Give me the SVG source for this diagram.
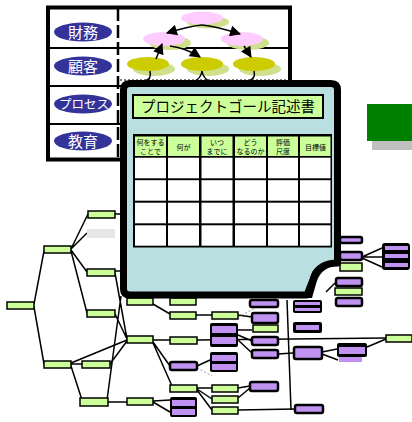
<svg xmlns="http://www.w3.org/2000/svg" width="412" height="422" viewBox="0 0 412 422">
  <style>
    .ln{stroke:#000;stroke-width:1.5;fill:none}
    .gb{fill:#ccff99;stroke:#000;stroke-width:1.5}
    .pb{fill:#c093f2;stroke:#000;stroke-width:2.5}
    .pk{fill:#000}
    .pp{fill:#c093f2}
    .fb{fill:#e6e6e6}
    .ov{fill:#333399}
    .ovt{font-family:"Noto Sans CJK JP","Noto Sans",sans-serif;fill:#fff;text-anchor:middle}
    .pink{fill:#ffccff}
    .yel{fill:#cccc00}
    .shd{fill:#cfe08c}
    .arr{stroke:#000;stroke-width:1.5;fill:none;marker-end:url(#ah)}
    .hc{fill:#ccff99}
    .bc{fill:#fff}
    .ht{font-family:"Noto Sans CJK JP",sans-serif;font-size:7px;fill:#000;text-anchor:middle}
  </style>
  <defs>
    <marker id="ah" viewBox="0 0 10 10" refX="9" refY="5" markerWidth="12" markerHeight="11" markerUnits="userSpaceOnUse" orient="auto">
      <path d="M0,0 L10,5 L0,10 Z" fill="#000"/>
    </marker>
  </defs>
  <rect width="412" height="422" fill="#fff"/>

  <!-- background goal tree: connectors -->
  <g id="tree-connectors">
    <path class="ln" d="M34,304 L44,251 M34,307 L44,364"/>
    <path class="ln" d="M71,249 L88,214 M71,249 L87,233 M71,250 L87,272 M71,251 L87,313"/>
    <path class="ln" d="M115,214 L122,214 M115,271 L122,271"/>
    <path class="ln" d="M115,273 L127,339 M115,314 L127,339 M121,296 L107,400"/>
    <path class="ln" d="M71,363 L127,340 M71,364 L82,364 M110,364 L127,341 M71,366 L82,400 M108,402 L127,402"/>
    <path class="ln" d="M153,340 L170,340 M153,304 L170,314 M196,315 L212,315 M153,342 L170,366 M153,343 L172,386"/>
    <path class="ln" d="M197,340 L386,338 M238,315 L252,317 M238,330 L252,330 M238,335 L252,341 M238,340 L252,353 M278,354 L293,353"/>
    <path class="ln" d="M197,366 L210,360 M197,388 L212,388 M197,389 L212,399 M197,390 L212,410"/>
    <path class="ln" d="M153,401 L170,400 M153,402 L170,412 M238,388 L250,386 M238,398 L250,388 M238,410 L295,409"/>
    <path class="ln" d="M287,300 L291,410 M322,352 L337,349 M322,354 L338,360 M367,347 L386,339"/>
    <path class="ln" d="M362,257 L382,248 M362,257 L382,257 M362,258 L382,267 M335,283 L326,292"/>
    <path d="M238,317 L290,290 M197,368 L212,376" stroke="#999" stroke-width="1" stroke-dasharray="2 2" fill="none"/>
  </g>

  <!-- background goal tree: nodes -->
  <g id="tree-nodes">
    <g id="n-g1"><rect class="gb" x="88" y="211" width="27" height="7"/></g>
    <g id="n-g2"><rect class="fb" x="87" y="229" width="28" height="9"/></g>
    <g id="n-g3"><rect class="gb" x="44" y="246" width="27" height="7"/></g>
    <g id="n-g4"><rect class="gb" x="87" y="269" width="28" height="7"/></g>
    <g id="n-g5"><rect class="gb" x="7" y="302" width="27" height="7"/></g>
    <g id="n-g6"><rect class="gb" x="87" y="310" width="28" height="7"/></g>
    <g id="n-g7"><rect class="gb" x="127" y="298" width="26" height="7"/></g>
    <g id="n-g8"><rect class="gb" x="170" y="298" width="26" height="7"/></g>
    <g id="n-g9"><rect class="gb" x="127" y="336" width="26" height="7"/></g>
    <g id="n-g10"><rect class="gb" x="170" y="312" width="26" height="7"/></g>
    <g id="n-g11"><rect class="gb" x="212" y="312" width="26" height="7"/></g>
    <g id="n-g12"><rect class="gb" x="170" y="337" width="27" height="7"/></g>
    <g id="n-g13"><rect class="gb" x="44" y="361" width="27" height="7"/></g>
    <g id="n-g14"><rect class="gb" x="82" y="361" width="28" height="7"/></g>
    <g id="n-g15"><rect class="gb" x="80" y="398" width="28" height="8"/></g>
    <g id="n-g16"><rect class="gb" x="127" y="398" width="26" height="7"/></g>
    <g id="n-g17"><rect class="gb" x="170" y="385" width="27" height="7"/></g>
    <g id="n-g18"><rect class="gb" x="212" y="385" width="26" height="7"/></g>
    <g id="n-g19"><rect class="gb" x="212" y="396" width="26" height="7"/></g>
    <g id="n-g20"><rect class="gb" x="212" y="407" width="26" height="7"/></g>
    <g id="n-g21"><rect class="gb" x="253" y="325" width="25" height="7"/></g>
    <g id="n-g22"><rect class="gb" x="340" y="263" width="22" height="8"/></g>
    <g id="n-g23"><rect class="gb" x="335" y="288" width="27" height="7"/></g>
    <g id="n-g24"><rect class="gb" x="386" y="335" width="26" height="7"/></g>

    <g id="n-p1"><rect class="pb" x="250" y="300" width="28" height="7" rx="2"/></g>
    <g id="n-p2"><rect class="pb" x="252" y="313" width="26" height="10" rx="2"/></g>
    <g id="n-p3"><rect class="pb" x="252" y="337" width="26" height="8" rx="2"/></g>
    <g id="n-p4"><rect class="pb" x="252" y="350" width="26" height="8" rx="2"/></g>
    <g id="n-p5"><rect class="pk" x="210" y="323" width="28" height="24" rx="2"/><rect class="pp" x="212" y="326" width="24" height="7"/><rect class="pp" x="212" y="337" width="24" height="7"/></g>
    <g id="n-p6"><rect class="pk" x="210" y="352" width="28" height="20" rx="2"/><rect class="pp" x="212" y="355" width="24" height="6"/><rect class="pp" x="212" y="364" width="24" height="6"/></g>
    <g id="n-p7"><rect class="pb" x="170" y="362" width="27" height="8" rx="2"/></g>
    <g id="n-p8"><rect class="pb" x="250" y="382" width="28" height="9" rx="2"/></g>
    <g id="n-p9"><rect class="pk" x="170" y="397" width="27" height="20" rx="2"/><rect class="pp" x="172" y="400" width="23" height="6"/><rect class="pp" x="172" y="409" width="23" height="6"/></g>
    <g id="n-p11"><rect class="pb" x="294" y="347" width="28" height="12" rx="2"/></g>
    <g id="n-p12"><rect class="pk" x="337" y="343" width="30" height="14" rx="2"/><rect class="pp" x="339" y="347" width="26" height="7"/><rect class="pp" x="339" y="357" width="23" height="5"/></g>
    <g id="n-p13"><rect class="pb" x="295" y="405" width="28" height="8" rx="2"/></g>
    <g id="n-p14"><rect class="pk" x="293" y="300" width="29" height="13" rx="2"/><rect class="pp" x="295" y="302" width="25" height="3"/><rect class="pp" x="295" y="308" width="25" height="3"/></g>
    <g id="n-p15"><rect class="pk" x="293" y="322" width="29" height="11" rx="2"/><rect class="pp" x="296" y="325" width="23" height="5"/></g>
    <g id="n-p16"><rect class="pb" x="340" y="237" width="22" height="6" rx="2"/></g>
    <g id="n-p17"><rect class="pb" x="340" y="252" width="22" height="8" rx="2"/></g>
    <g id="n-p18"><rect class="pb" x="336" y="278" width="26" height="8" rx="2"/></g>
    <g id="n-p19"><rect class="pb" x="336" y="298" width="26" height="8" rx="2"/></g>
    <g id="n-p20"><rect class="pk" x="382" y="243" width="28" height="27" rx="3"/><rect class="pp" x="385" y="246" width="23" height="4"/><rect class="pp" x="385" y="254" width="23" height="4"/><rect class="pp" x="385" y="263" width="23" height="4"/></g>
  </g>

  <!-- strategy map panel -->
  <g id="strategy-map">
    <rect x="48" y="7.5" width="242" height="152" fill="#fff" stroke="#000" stroke-width="4"/>
    <path d="M48,48 H290 M48,86 H290 M48,124 H290" stroke="#000" stroke-width="2"/>
    <path d="M118,8 V159" stroke="#000" stroke-width="2.5" stroke-dasharray="13 4"/>
    <path d="M120,80 H290" stroke="#000" stroke-width="1" stroke-dasharray="2 2"/>

    <g id="lbl-zaimu"><ellipse class="ov" cx="83" cy="32" rx="29" ry="9.5"/><text class="ovt" x="83" y="38" font-size="15">財務</text></g>
    <g id="lbl-kokyaku"><ellipse class="ov" cx="83" cy="66" rx="29" ry="9.5"/><text class="ovt" x="83" y="72" font-size="15">顧客</text></g>
    <g id="lbl-process"><ellipse class="ov" cx="83" cy="104" rx="29" ry="9.5"/><text class="ovt" x="84" y="109" font-size="12.5">プロセス</text></g>
    <g id="lbl-kyoiku"><ellipse class="ov" cx="83" cy="141" rx="29" ry="9.5"/><text class="ovt" x="83" y="147" font-size="15">教育</text></g>

    <g id="obj-f1"><ellipse class="shd" cx="208" cy="22" rx="21" ry="6.5"/><ellipse class="pink" cx="202" cy="18" rx="21" ry="6.5"/></g>
    <g id="obj-f2"><ellipse class="shd" cx="170" cy="43" rx="21" ry="7"/><ellipse class="pink" cx="164" cy="39" rx="21" ry="7"/></g>
    <g id="obj-f3"><ellipse class="shd" cx="248" cy="43" rx="21" ry="7"/><ellipse class="pink" cx="242" cy="39" rx="21" ry="7"/></g>
    <g id="obj-c1"><ellipse class="shd" cx="154" cy="69" rx="21" ry="7"/><ellipse class="yel" cx="148" cy="64" rx="21" ry="7"/></g>
    <g id="obj-c2"><ellipse class="shd" cx="208" cy="69" rx="21" ry="7"/><ellipse class="yel" cx="202" cy="64" rx="21" ry="7"/></g>
    <g id="obj-c3"><ellipse class="shd" cx="260" cy="69" rx="21" ry="7"/><ellipse class="yel" cx="254" cy="64" rx="21" ry="7"/></g>

    <g id="map-arrows">
      <path class="arr" d="M202,25 Q190,26 167,33"/>
      <path class="arr" d="M202,25 Q215,26 240,34"/>
      <path class="arr" d="M156,59 L162,44"/>
      <path class="arr" d="M170,46 Q186,48 200,57"/>
      <path class="arr" d="M244,46 L251,57"/>
      <path class="ln" d="M150,71 Q152,80 144,81 M202,71 Q201,78 195,81 M202,71 Q203,78 209,81 M254,71 Q256,79 248,81"/>
    </g>
  </g>

  <!-- project goal statement sheet -->
  <g id="goal-sheet">
    <path d="M123.5,90 Q123.5,83.5 130,83.5 H331 Q337.5,83.5 337.5,90 V263 C327,263 318,267 314,277 L307,295 H130 Q123.5,295 123.5,289 Z" fill="#badfe1" stroke="#000" stroke-width="7" stroke-linejoin="round"/>
    <path d="M305,298 L311,275 C314,266 322,262 337,262 L328,268 C322,271 318,276 316,284 L312,298 Z" fill="#000"/>

    <g id="sheet-title">
      <rect x="133" y="95" width="190" height="23" fill="#ccff99" stroke="#000" stroke-width="2"/>
      <text x="228" y="112" font-family="Noto Sans CJK JP,sans-serif" font-size="14.5" text-anchor="middle" fill="#000">プロジェクトゴール記述書</text>
    </g>

    <g id="sheet-table">
      <rect x="133" y="134" width="199" height="113.5" fill="#000"/>
      <g>
        <rect class="hc" x="135" y="136.5" width="31" height="19.5"/>
        <rect class="hc" x="168" y="136.5" width="31" height="19.5"/>
        <rect class="hc" x="201.5" y="136.5" width="31" height="19.5"/>
        <rect class="hc" x="235" y="136.5" width="31" height="19.5"/>
        <rect class="hc" x="268" y="136.5" width="30" height="19.5"/>
        <rect class="hc" x="300" y="136.5" width="30.5" height="19.5"/>
      </g>
      <g class="ht">
        <text x="150.5" y="144.5">何をする</text><text x="150.5" y="154">ことで</text>
        <text x="183.5" y="149.5">何が</text>
        <text x="217" y="144.5">いつ</text><text x="217" y="154">までに</text>
        <text x="250.5" y="144.5">どう</text><text x="250.5" y="154">なるのか</text>
        <text x="283" y="144.5">評価</text><text x="283" y="154">尺度</text>
        <text x="315.5" y="149.5">目標値</text>
      </g>
      <g id="body-cells">
        <rect class="bc" x="135" y="157.7" width="31" height="20.6"/><rect class="bc" x="168" y="157.7" width="31" height="20.6"/><rect class="bc" x="201.5" y="157.7" width="31" height="20.6"/><rect class="bc" x="235" y="157.7" width="31" height="20.6"/><rect class="bc" x="268" y="157.7" width="30" height="20.6"/><rect class="bc" x="300" y="157.7" width="30.5" height="20.6"/>
        <rect class="bc" x="135" y="180.2" width="31" height="20.5"/><rect class="bc" x="168" y="180.2" width="31" height="20.5"/><rect class="bc" x="201.5" y="180.2" width="31" height="20.5"/><rect class="bc" x="235" y="180.2" width="31" height="20.5"/><rect class="bc" x="268" y="180.2" width="30" height="20.5"/><rect class="bc" x="300" y="180.2" width="30.5" height="20.5"/>
        <rect class="bc" x="135" y="202.7" width="31" height="20.6"/><rect class="bc" x="168" y="202.7" width="31" height="20.6"/><rect class="bc" x="201.5" y="202.7" width="31" height="20.6"/><rect class="bc" x="235" y="202.7" width="31" height="20.6"/><rect class="bc" x="268" y="202.7" width="30" height="20.6"/><rect class="bc" x="300" y="202.7" width="30.5" height="20.6"/>
        <rect class="bc" x="135" y="225.3" width="31" height="20.4"/><rect class="bc" x="168" y="225.3" width="31" height="20.4"/><rect class="bc" x="201.5" y="225.3" width="31" height="20.4"/><rect class="bc" x="235" y="225.3" width="31" height="20.4"/><rect class="bc" x="268" y="225.3" width="30" height="20.4"/><rect class="bc" x="300" y="225.3" width="30.5" height="20.4"/>
      </g>
    </g>
  </g>

  <!-- green block with drop shadow -->
  <g id="green-block">
    <rect x="372" y="109" width="40" height="41" fill="#c0c0c0"/>
    <rect x="367" y="104" width="45" height="37" fill="#008000"/>
  </g>
</svg>
